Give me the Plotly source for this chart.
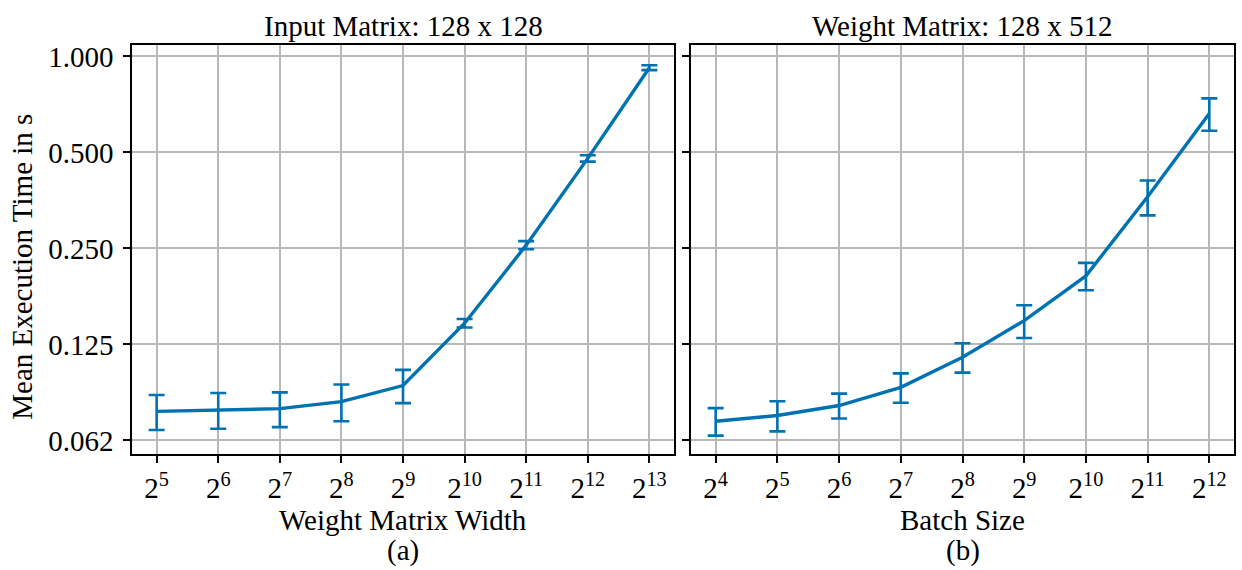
import plotly.graph_objects as go

# Panel (a): weight matrix width sweep, input fixed at 128 x 128
width_exp = [5, 6, 7, 8, 9, 10, 11, 12, 13]
width_mean = [0.0771, 0.0780, 0.0786, 0.0827, 0.0929, 0.1457, 0.256, 0.479, 0.922]
width_err = [0.0097, 0.0100, 0.0098, 0.0109, 0.0111, 0.0045, 0.0075, 0.011, 0.016]

# Panel (b): batch size sweep, weight fixed at 128 x 512
batch_exp = [4, 5, 6, 7, 8, 9, 10, 11, 12]
batch_mean = [0.0718, 0.0748, 0.0804, 0.0917, 0.1140, 0.1484, 0.2050, 0.363, 0.662]
batch_err = [0.0071, 0.0081, 0.0072, 0.0097, 0.0120, 0.0175, 0.0202, 0.0455, 0.077]

y_ticks = [0.0625, 0.125, 0.25, 0.5, 1.0]
y_tick_text = ["0.062", "0.125", "0.250", "0.500", "1.000"]

BLUE = "#0072B2"
FONT = "Liberation Serif"
FS = 29
W, H = 1242, 570

def px_x(p):
    return p / W

def px_y(p):
    return 1 - p / H

fig = go.Figure()

for i, (exps, mean, err) in enumerate([(width_exp, width_mean, width_err),
                                      (batch_exp, batch_mean, batch_err)]):
    xs = [2 ** e for e in exps]
    fig.add_trace(go.Scatter(
        x=xs, y=mean, mode="lines",
        line=dict(color=BLUE, width=3.4),
        error_y=dict(type="data", array=err, visible=True, color=BLUE,
                     thickness=2.6, width=8),
        xaxis="x" if i == 0 else "x2",
        yaxis="y" if i == 0 else "y2",
        showlegend=False,
    ))

yr = [-1.248, 0.0343]
common_axis = dict(
    showline=True, linecolor="black", linewidth=1.6, mirror=True,
    ticks="outside", ticklen=7, tickwidth=1.6, tickcolor="black",
    showgrid=True, gridcolor="#b8b8b8", gridwidth=1.6,
    zeroline=False,
    tickfont=dict(family=FONT, size=FS, color="black"),
)

y_domain = [px_y(455), px_y(41)]

fig.update_layout(
    width=W, height=H,
    margin=dict(l=0, r=0, t=0, b=0),
    plot_bgcolor="white", paper_bgcolor="white",
    font=dict(family=FONT, size=FS, color="black"),
    xaxis=dict(common_axis, type="log", domain=[px_x(132), px_x(674)],
               range=[4.6 * 0.30103, 13.4 * 0.30103],
               tickvals=[2 ** e for e in width_exp],
               ticktext=[f"2<sup>{e}</sup>" for e in width_exp],
               anchor="y"),
    yaxis=dict(common_axis, type="log", domain=y_domain,
               range=yr, tickvals=y_ticks, ticktext=y_tick_text,
               ticklabelstandoff=4, anchor="x"),
    xaxis2=dict(common_axis, type="log", domain=[px_x(691), px_x(1234)],
                range=[3.6 * 0.30103, 12.4 * 0.30103],
                tickvals=[2 ** e for e in batch_exp],
                ticktext=[f"2<sup>{e}</sup>" for e in batch_exp],
                anchor="y2"),
    yaxis2=dict(common_axis, type="log", domain=y_domain,
                range=yr, tickvals=y_ticks, showticklabels=False,
                anchor="x2"),
)

ann = [
    dict(text="Input Matrix: 128 x 128", x=(px_x(132) + px_x(674)) / 2, y=px_y(21)),
    dict(text="Weight Matrix: 128 x 512", x=(px_x(691) + px_x(1234)) / 2, y=px_y(21)),
    dict(text="Weight Matrix Width", x=(px_x(132) + px_x(674)) / 2, y=px_y(521)),
    dict(text="(a)", x=(px_x(132) + px_x(674)) / 2, y=px_y(552)),
    dict(text="Batch Size", x=(px_x(691) + px_x(1234)) / 2, y=px_y(521)),
    dict(text="(b)", x=(px_x(691) + px_x(1234)) / 2, y=px_y(552)),
]
for a in ann:
    fig.add_annotation(xref="paper", yref="paper", showarrow=False,
                       xanchor="center", yanchor="middle",
                       font=dict(family=FONT, size=FS, color="black"), **a)
fig.add_annotation(text="Mean Execution Time in s", xref="paper", yref="paper",
                   x=px_x(22), y=px_y(265), textangle=-90, showarrow=False,
                   xanchor="center", yanchor="middle",
                   font=dict(family=FONT, size=FS, color="black"))

fig.write_html("out.html")
